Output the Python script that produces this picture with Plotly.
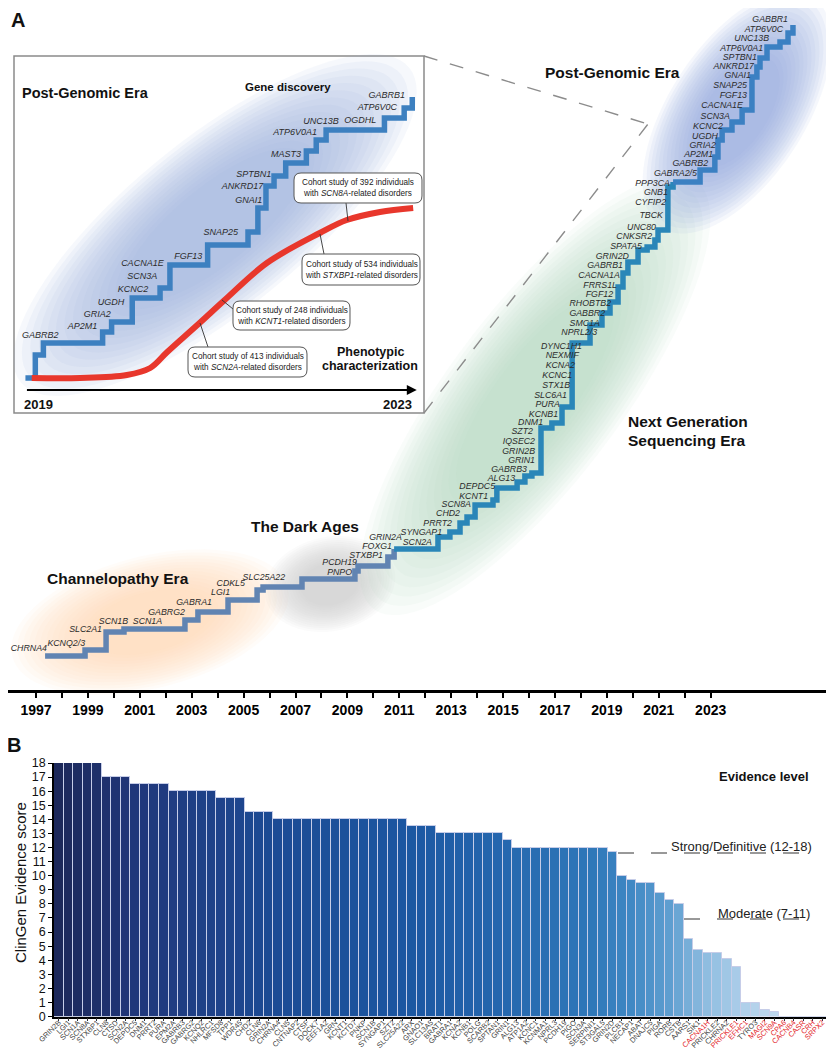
import numpy as np
import plotly.graph_objects as go

W, H = 834, 1050
OFF = 8  # page body margin offset compensation (px)
FONT = "Liberation Sans, Arial, Helvetica, sans-serif"

# ---------------- Panel B data ----------------
genes_b = ["GRIN2B", "LGI1", "SCN1A", "SCN8A", "STXBP1", "CLN8", "CTSD", "SCN2A", "DEPDC5", "DNM1",
           "PRRT2", "PURA", "EPM2A", "GABRB3", "GABRG2", "KCNQ2", "NHLRC1", "MFSD8", "TPP1", "WDR45",
           "CHD2", "CLN6", "GRIN2A", "CHRNA4", "CLN5", "CNTNAP2", "CTSF", "DOCK7", "EEF1A2", "GRN",
           "KCNT1", "KCTD7", "PNKP", "SCN1B", "SYNGAP1", "SZT2", "SLC25A22", "ARX", "GNAO1", "SLC13A5",
           "BRAT1", "GABRA1", "KCNA2", "KCNB1", "POLG", "SCARB2", "SPTAN1", "GRIN1", "ALG13", "ATP1A2",
           "KCNC1", "KCNMA1", "NPRL3", "PCDH19", "PIGO", "SCN3A", "SERPINI1", "ST3GAL5", "GRIN2D", "PLCB1",
           "NECAP1", "ABAT", "DNAJC5", "PIGA", "RORB", "CSTB", "AARS1", "SIK1", "CACNA1H", "PRICKLE2",
           "CHRNA2", "PRICKLE1", "EFHC1", "TYRO3", "MAGI2", "SCN9A", "CPA6", "CACNB4", "CASR", "CRH", "SRPX2"]
scores_b = [18, 18, 18, 18, 18, 17, 17, 17, 16.5, 16.5,
            16.5, 16.5, 16, 16, 16, 16, 16, 15.5, 15.5, 15.5,
            14.5, 14.5, 14.5, 14, 14, 14, 14, 14, 14, 14,
            14, 14, 14, 14, 14, 14, 14, 13.5, 13.5, 13.5,
            13, 13, 13, 13, 13, 13, 13, 12.5, 12, 12,
            12, 12, 12, 12, 12, 12, 12, 12, 11.7, 10,
            9.7, 9.5, 9.5, 8.75, 8.3, 8.0, 5.5, 4.7, 4.5, 4.5,
            4.1, 3.5, 1.0, 1.0, 0.5, 0.3, 0, 0, 0, 0, 0]
disputed_b = ["CACNA1H", "PRICKLE1", "EFHC1", "MAGI2", "SCN9A", "CPA6", "CACNB4", "CASR", "CRH", "SRPX2"]
score_ticks = list(range(0, 19))

# ---------------- Panel A data (main timeline) ----------------
timeline_years = list(range(1997, 2024))
step_year = [1997.35, 1998.89, 1999.70, 2000.39, 2002.74, 2003.24, 2004.40, 2005.52, 2005.75, 2007.25,
             2009.29, 2009.41, 2010.56, 2010.80, 2012.49, 2012.95, 2013.34, 2013.61, 2013.92, 2014.61,
             2014.76, 2015.54, 2015.84, 2016.11, 2016.46, 2016.88, 2017.27, 2017.66, 2018.35, 2018.81,
             2019.12, 2019.43, 2019.62, 2019.81, 2020.20, 2020.55, 2020.85, 2020.97, 2021.35, 2021.55,
             2022.59, 2023.16, 2023.28, 2023.44, 2023.82, 2024.21, 2024.59, 2024.78, 2024.90, 2025.17,
             2025.67, 2025.98, 2026.17]
step_height = [34, 40, 58, 61, 70, 78, 90, 100, 103, 111,
               119, 124, 133, 141, 153, 158, 167, 173, 185, 190,
               202, 208, 214, 217, 262, 267, 283, 347, 365, 377,
               388, 403, 417, 428, 440, 443, 450, 460, 503, 508,
               520, 533, 550, 560, 568, 580, 613, 623, 632, 643,
               648, 657, 665]

gene_names_a = ["CHRNA4", "KCNQ2/3", "SLC2A1", "SCN1B", "SCN1A", "GABRG2", "GABRA1", "LGI1", "CDKL5", "SLC25A22",
                "PNPO", "PCDH19", "STXBP1", "FOXG1", "GRIN2A", "SCN2A", "SYNGAP1", "PRRT2", "CHD2", "SCN8A",
                "KCNT1", "DEPDC5", "ALG13", "GABRB3", "GRIN1", "GRIN2B", "IQSEC2", "SZT2", "DNM1", "KCNB1",
                "PURA", "SLC6A1", "STX1B", "KCNC1", "KCNA2", "NEXMIF", "DYNC1H1", "NPRL2/3", "SMC1A", "GABBR2",
                "RHOBTB2", "FGF12", "FRRS1L", "CACNA1A", "GABRB1", "GRIN2D", "SPATA5", "CNKSR2", "UNC80", "TBCK",
                "CYFIP2", "GNB1", "PPP3CA", "GABRA2/5", "GABRB2", "AP2M1", "GRIA2", "UGDH", "KCNC2", "SCN3A",
                "CACNA1E", "FGF13", "SNAP25", "GNAI1", "ANKRD17", "SPTBN1", "ATP6V0A1", "UNC13B", "ATP6V0C", "GABBR1"]
gene_label_year = [1997.42, 1998.89, 1999.54, 2000.55, 2001.86, 2002.74, 2003.78, 2004.48, 2005.05, 2006.60,
                   2009.18, 2009.37, 2010.37, 2010.72, 2011.10, 2012.26, 2012.65, 2013.03, 2013.34, 2013.76,
                   2014.42, 2014.69, 2015.46, 2015.92, 2016.23, 2016.23, 2016.23, 2016.15, 2016.54, 2017.12,
                   2017.19, 2017.46, 2017.58, 2017.66, 2017.77, 2017.92, 2018.04, 2018.62, 2018.73, 2018.93,
                   2019.16, 2019.24, 2019.39, 2019.50, 2019.62, 2019.85, 2020.35, 2020.74, 2020.89, 2021.16,
                   2021.28, 2021.35, 2021.43, 2022.47, 2022.90, 2023.09, 2023.20, 2023.28, 2023.47, 2023.74,
                   2024.24, 2024.40, 2024.40, 2024.55, 2024.67, 2024.78, 2025.02, 2025.25, 2025.79, 2025.98]
gene_label_height = [41, 46, 60, 68, 68, 77, 87, 97, 106, 112,
                     117, 127, 134, 143, 152, 147, 157, 166, 176, 185,
                     193, 203, 211, 220, 229, 238, 248, 258, 267, 275,
                     285, 294, 304, 314, 324, 334, 343, 357, 366, 376,
                     386, 395, 404, 414, 424, 433, 443, 453, 462, 474,
                     487, 497, 506, 516, 526, 535, 544, 553, 563, 573,
                     584, 594, 604, 614, 623, 632, 641, 651, 660, 670]

# ---------------- Panel A inset data ----------------
inset_step_year = [2018.86, 2018.97, 2019.06, 2019.72, 2019.82, 2020.05, 2020.36, 2020.47, 2020.89, 2021.34,
                   2021.45, 2021.54, 2021.63, 2021.76, 2021.99, 2022.10, 2022.21, 2022.86, 2023.08, 2023.17]
inset_step_height = [12, 35, 47, 58, 68, 92, 102, 125, 145, 158,
                     182, 204, 214, 227, 239, 250, 260, 272, 282, 293]
inset_genes = ["GABRB2", "AP2M1", "GRIA2", "UGDH", "KCNC2", "SCN3A", "CACNA1E", "FGF13", "SNAP25", "GNAI1",
               "ANKRD17", "SPTBN1", "MAST3", "ATP6V0A1", "UNC13B", "OGDHL", "ATP6V0C", "GABRB1"]
inset_label_year = [2019.23, 2019.66, 2019.81, 2019.96, 2020.23, 2020.33, 2020.40, 2020.83, 2021.23, 2021.50,
                    2021.51, 2021.60, 2021.93, 2022.11, 2022.35, 2022.77, 2023.00, 2023.09]
inset_label_height = [54, 63, 75, 87, 100, 113, 126, 133, 157, 189,
                      203, 215, 235, 257, 268, 269, 282, 294]
pheno_year = [2018.93, 2019.47, 2019.99, 2020.25, 2020.44, 2020.80, 2021.08, 2021.55, 2022.14, 2022.44, 2022.81, 2023.18]
pheno_height = [12, 12, 15, 22, 38, 67, 90, 127, 157, 170, 178, 182]
cohort_texts = [
    "Cohort study of 392 individuals<br>with <i>SCN8A</i>-related disorders",
    "Cohort study of 534 individuals<br>with <i>STXBP1</i>-related disorders",
    "Cohort study of 248 individuals<br>with <i>KCNT1</i>-related disorders",
    "Cohort study of 413 individuals<br>with <i>SCN2A</i>-related disorders",
]


# ---------------- helpers (layout pixels -> paper) ----------------
def fx(x):
    return (x - OFF) / W


def fy(y):
    return 1 - (y - OFF) / H


def path_px(pts, close=True):
    s = "M " + " L ".join(f"{fx(x):.5f},{fy(y):.5f}" for x, y in pts)
    return s + (" Z" if close else "")


def ellipse_pts(cx, cy, a, b, ang_deg, n=90):
    t = np.linspace(0, 2 * np.pi, n, endpoint=False)
    g = np.radians(ang_deg)
    xs = cx + a * np.cos(t) * np.cos(g) - b * np.sin(t) * np.sin(g)
    ys = cy + a * np.cos(t) * np.sin(g) + b * np.sin(t) * np.cos(g)
    return list(zip(xs, ys))


shapes = []


def glow(cx, cy, a, b, ang, color, layers=14, op=0.08, smin=0.45):
    for k in range(layers):
        s = 1.0 - k * (1 - smin) / (layers - 1)
        shapes.append(dict(type="path", xref="paper", yref="paper", layer="below",
                           path=path_px(ellipse_pts(cx, cy, a * s, b * s, ang)),
                           fillcolor=color, opacity=op, line=dict(width=0)))


def rrect(x0, y0, x1, y1, r):
    c = lambda x, y: f"{fx(x):.5f},{fy(y):.5f}"
    return (f"M {c(x0 + r, y0)} L {c(x1 - r, y0)} Q {c(x1, y0)} {c(x1, y0 + r)} "
            f"L {c(x1, y1 - r)} Q {c(x1, y1)} {c(x1 - r, y1)} L {c(x0 + r, y1)} "
            f"Q {c(x0, y1)} {c(x0, y1 - r)} L {c(x0, y0 + r)} Q {c(x0, y0)} {c(x0 + r, y0)} Z")


def hline(x0, x1, y, color, width, dash=None, layer="above"):
    shapes.append(dict(type="line", xref="paper", yref="paper", layer=layer,
                       x0=fx(x0), x1=fx(x1), y0=fy(y), y1=fy(y),
                       line=dict(color=color, width=width, dash=dash)))


# era glows (main timeline)
glow(150, 622, 142, 66, -14, "#fad6ae", op=0.075)
glow(330, 584, 66, 47, -12, "#cbcbd0")
glow(535, 395, 268, 86, -53, "#b3dcbd", op=0.075)
glow(737, 112, 138, 68, -57, "#8ea6dd", op=0.09)

# inset box
x0b, y0b, x1b, y1b = 14, 56, 424, 413
shapes.append(dict(type="rect", xref="paper", yref="paper", layer="below",
                   x0=fx(x0b), x1=fx(x1b), y0=fy(y1b), y1=fy(y0b),
                   fillcolor="white", line=dict(color="#8a8a8a", width=1.5)))
glow(215, 225, 250, 86, -39, "#9fb3e1", op=0.09)

# zoom callout dashed lines
for (xa, ya) in [(424, 56), (424, 413)]:
    shapes.append(dict(type="line", xref="paper", yref="paper", layer="below",
                       x0=fx(xa), y0=fy(ya), x1=fx(648), y1=fy(124),
                       line=dict(color="#8c8c8c", width=1.4, dash="14px,13px")))

# cohort boxes
boxes = [(294, 173, 422, 203), (302, 254, 420, 285), (233, 301, 350, 330), (188, 347, 307, 377)]
leaders = [((346, 203), (348, 221)), ((324, 254), (320, 234)), ((233, 309), (222, 300)), ((208, 347), (200, 323))]
for (a, b) in leaders:
    shapes.append(dict(type="line", xref="paper", yref="paper", layer="above",
                       x0=fx(a[0]), y0=fy(a[1]), x1=fx(b[0]), y1=fy(b[1]),
                       line=dict(color="#333333", width=0.9)))
for (bx0, by0, bx1, by1) in boxes:
    shapes.append(dict(type="path", xref="paper", yref="paper", layer="above",
                       path=rrect(bx0, by0, bx1, by1, 7), fillcolor="white",
                       line=dict(color="#555555", width=1)))

# panel B evidence-level dashed lines
hline(618, 812, 853, "#333", 1, "16px,17px")
hline(684, 802, 919, "#333", 1, "16px,17px")

fig = go.Figure()

# ---- main staircase (three eras) ----
segs = [(0, 14, "#6184b2"), (13, 40, "#2a86b8"), (39, len(step_year), "#3b80c2")]
for i0, i1, col in segs:
    fig.add_trace(go.Scatter(x=step_year[i0:i1], y=step_height[i0:i1], mode="lines",
                             line=dict(shape="hv", color=col, width=5.5),
                             xaxis="x", yaxis="y", hoverinfo="skip", showlegend=False))
fig.add_trace(go.Scatter(x=gene_label_year, y=gene_label_height, mode="text",
                         text=[f"<i>{g}</i>" for g in gene_names_a], textposition="middle left",
                         textfont=dict(family=FONT, size=8.8, color="#2b2b2b"),
                         xaxis="x", yaxis="y", hoverinfo="skip", showlegend=False))

# ---- inset ----
fig.add_trace(go.Scatter(x=inset_step_year, y=inset_step_height, mode="lines",
                         line=dict(shape="hv", color="#3d80c0", width=5.5),
                         xaxis="x3", yaxis="y3", hoverinfo="skip", showlegend=False))
fig.add_trace(go.Scatter(x=pheno_year, y=pheno_height, mode="lines",
                         line=dict(shape="spline", smoothing=1.0, color="#e8372c", width=6),
                         xaxis="x3", yaxis="y3", hoverinfo="skip", showlegend=False))
fig.add_trace(go.Scatter(x=inset_label_year, y=inset_label_height, mode="text",
                         text=[f"<i>{g}</i>" for g in inset_genes], textposition="middle left",
                         textfont=dict(family=FONT, size=9, color="#2b2b2b"),
                         xaxis="x3", yaxis="y3", hoverinfo="skip", showlegend=False))

# ---- panel B bars ----
tick_b = [f"<span style='color:#e3262b'>{g}</span>" if g in disputed_b else g for g in genes_b]
fig.add_trace(go.Bar(x=genes_b, y=scores_b, xaxis="x2", yaxis="y2",
                     marker=dict(color=list(range(len(genes_b))),
                                 colorscale=[[0, "#1c285a"], [0.1, "#20377a"], [0.2, "#1f4289"],
                                             [0.28, "#1c4b94"], [0.45, "#1b56a1"], [0.58, "#2567ae"],
                                             [0.7, "#2f78b9"], [0.75, "#4088c4"], [0.8, "#5e9ed0"],
                                             [0.85, "#8fbde0"], [0.9, "#b0d0ea"], [1, "#d0e2f3"]],
                                 line=dict(color="#c6cde8", width=1)),
                     hoverinfo="skip", showlegend=False))

ann = []


def text(x, y, s, size, bold=False, family=FONT, xanchor="center", align="center", color="#111"):
    t = f"<b>{s}</b>" if bold else s
    ann.append(dict(x=fx(x), y=fy(y), xref="paper", yref="paper", text=t, showarrow=False,
                    xanchor=xanchor, yanchor="middle", align=align,
                    font=dict(family=family, size=size, color=color)))


text(18, 20, "A", 20, bold=True)
text(14, 745, "B", 20, bold=True)
text(118, 578, "Channelopathy Era", 15.5, bold=True)
text(305, 526, "The Dark Ages", 15.5, bold=True)
text(626, 421, "Next Generation", 15.5, bold=True, xanchor="left")
text(626, 440, "Sequencing Era", 15.5, bold=True, xanchor="left")
text(612, 72, "Post-Genomic Era", 15.5, bold=True)
text(85, 93, "Post-Genomic Era", 14.5, bold=True)
text(288, 87, "Gene discovery", 11.5, bold=True)
text(370, 352, "Phenotypic", 12.5, bold=True)
text(370, 366, "characterization", 12.5, bold=True)
text(38, 405, "2019", 13, bold=True)
text(397, 405, "2023", 13, bold=True)
for (bx0, by0, bx1, by1), t in zip(boxes, cohort_texts):
    text((bx0 + bx1) / 2, (by0 + by1) / 2, t, 8.2, color="#222")
text(764, 776, "Evidence level", 13, bold=True)
text(741, 846, "Strong/Definitive (12-18)", 13, color="#222")
text(764, 913, "Moderate (7-11)", 13, color="#222")
ann.append(dict(x=fx(20), y=fy(883), xref="paper", yref="paper", text="ClinGen Evidence score",
                xanchor="center", yanchor="middle",
                showarrow=False, textangle=-90, font=dict(family=FONT, size=15, color="#111")))
# inset time arrow
ann.append(dict(x=2023.22, y=0, xref="x3", yref="y3", ax=2018.86, ay=0, axref="x3", ayref="y3",
                text="", showarrow=True, arrowhead=2, arrowsize=1.1, arrowwidth=1.8, arrowcolor="black"))

yr_px = 25.95    # px per year on the main timeline
in_px = 89.75    # px per year in the inset
fig.update_layout(
    width=W, height=H, margin=dict(l=0, r=0, t=0, b=0, autoexpand=False),
    paper_bgcolor="white", plot_bgcolor="rgba(0,0,0,0)",
    font=dict(family=FONT, color="#111"),
    shapes=shapes, annotations=ann, bargap=0,
    xaxis=dict(domain=[fx(8), fx(834)], range=[1997 + (8 - 36) / yr_px, 1997 + (834 - 36) / yr_px],
               anchor="y", automargin=False,
               showgrid=False, zeroline=False, showline=True, linecolor="black", linewidth=2.5,
               ticks="outside", ticklen=5, tickwidth=1.5, tickcolor="black",
               tickvals=timeline_years,
               ticktext=[f"<b>{y}</b>" if (y - 1997) % 2 == 0 else "" for y in timeline_years],
               tickfont=dict(family=FONT, size=14, color="black")),
    yaxis=dict(domain=[fy(690), 1], range=[0, 690 - OFF], visible=False, anchor="x", automargin=False),
    xaxis3=dict(domain=[0, 1], range=[2019 + (OFF - 38) / in_px, 2019 + (OFF + W - 38) / in_px],
                visible=False, anchor="y3", automargin=False),
    yaxis3=dict(domain=[0, 1], range=[390 - (OFF + H), 390 - OFF], visible=False, anchor="x3",
                automargin=False),
    xaxis2=dict(domain=[fx(54), fx(827)], anchor="y2", type="category", automargin=False,
                tickvals=genes_b, ticktext=tick_b, tickangle=-45, ticklabelstandoff=-6,
                tickfont=dict(family=FONT, size=7.4, color="#444"),
                showline=True, linecolor="black", linewidth=1.5, ticks="outside", ticklen=3,
                tickcolor="#333", showgrid=False, zeroline=False),
    yaxis2=dict(domain=[fy(1016.6), fy(763)], range=[0, 18], anchor="x2", automargin=False,
                tickvals=score_ticks, showline=True, linecolor="black", linewidth=1.5,
                ticks="outside", ticklen=4, tickcolor="black", showgrid=False, zeroline=False,
                tickfont=dict(family=FONT, size=12.5, color="#111")),
)

fig.write_html("out.html")
